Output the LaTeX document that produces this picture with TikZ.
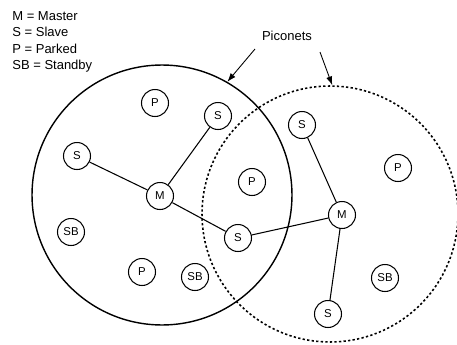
\documentclass[tikz,border=0pt]{standalone}
\usepackage{fontspec}
\setmainfont{Liberation Sans}
\usetikzlibrary{arrows.meta}

\begin{document}
\begin{tikzpicture}[x=0.02cm, y=-0.02cm,
    dev/.style={draw, circle, fill=white, line width=0.6pt, minimum size=0.54cm, inner sep=0pt, font=\fontsize{6.5}{7}\selectfont},
    link/.style={line width=0.6pt},
    pointer/.style={-{Latex[length=5pt,width=3.5pt]}, line width=0.5pt}]
    \useasboundingbox (0,0) rectangle (457,345);

    % piconet boundaries
    \node[draw, circle, line width=0.8pt, minimum size=5.2cm, inner sep=0pt] (netA) at (162,195) {};
    \node[draw, circle, line width=0.9pt, dash pattern=on 1.3pt off 1.3pt, minimum size=5.12cm, inner sep=0pt] (netB) at (330,214) {};

    % legend and label
    \node[anchor=north west, inner sep=0pt, align=left, font=\fontsize{7.4}{9.4}\selectfont] (legend) at (12,11)
        {M = Master\\S = Slave\\P = Parked\\SB = Standby};
    \node[font=\fontsize{7.4}{9}\selectfont] (piconets) at (287,36) {Piconets};
    \coordinate (tailA) at (255,49);
    \coordinate (tailB) at (320,52);
    \draw[pointer] (tailA) -- (netA.60);
    \draw[pointer] (tailB) -- (netB.89);

    % first piconet
    \node[dev] (mA) at (160,196) {M};
    \node[dev] (sA1) at (77,156) {S};
    \node[dev] (sA2) at (218,116) {S};
    \node[dev] (pA1) at (155,103) {P};
    \node[dev] (sbA1) at (71,232) {SB};
    \node[dev] (pA2) at (142,272) {P};
    \node[dev] (sbA2) at (195,277) {SB};

    % shared slave
    \node[dev] (sAB) at (238,238) {S};
    \node[dev] (pAB) at (252,182) {P};

    % second piconet
    \node[dev] (mB) at (342,215) {M};
    \node[dev] (sB1) at (302,125) {S};
    \node[dev] (sB2) at (328,314) {S};
    \node[dev] (pB) at (398,168) {P};
    \node[dev] (sbB) at (385,278) {SB};

    \draw[link] (mA) -- (sA1);
    \draw[link] (mA) -- (sA2);
    \draw[link] (mA) -- (sAB);
    \draw[link] (mB) -- (sAB);
    \draw[link] (mB) -- (sB1);
    \draw[link] (mB) -- (sB2);
\end{tikzpicture}
\end{document}
